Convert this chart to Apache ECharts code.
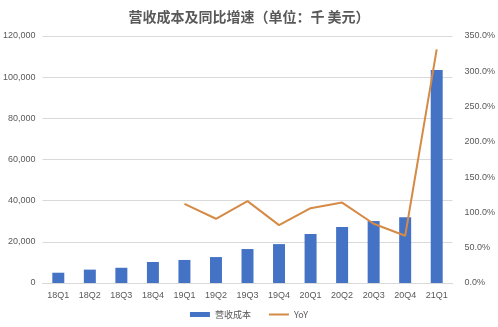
<!DOCTYPE html>
<html>
<head>
<meta charset="utf-8">
<script src="https://cdn.jsdelivr.net/npm/echarts@6/dist/echarts.min.js"></script>
<style>
  html, body { margin: 0; padding: 0; background: #fff; }
  #chart { width: 498px; height: 327px; }
</style>
</head>
<body>
<div id="chart"></div>
<script>
// Quarterly cost of revenue (thousand USD) and year-over-year growth
const quarters = ['18Q1','18Q2','18Q3','18Q4','19Q1','19Q2','19Q3','19Q4','20Q1','20Q2','20Q3','20Q4','21Q1'];
const costValues = [5000, 6500, 7400, 10200, 11200, 12600, 16500, 18900, 23800, 27200, 30100, 32000, 103500];
const yoyValues = [null, null, null, null, 112, 91, 116, 82, 106, 114, 84, 67, 331];

const chart = echarts.init(document.getElementById('chart'));
const axisText = { color: '#595959', fontSize: 9, fontFamily: 'Liberation Sans, Arial, sans-serif' };

chart.setOption({
  animation: false,
  title: {
    text: '营收成本及同比增速（单位：千 美元）',
    left: 'center',
    top: 5,
    textStyle: { fontSize: 14, fontWeight: 'bold', color: '#595959', fontFamily: 'Noto Sans CJK SC' }
  },
  legend: {
    bottom: 3,
    left: 'center',
    itemWidth: 20,
    itemHeight: 5,
    itemGap: 18,
    textStyle: { fontSize: 9, color: '#595959', fontFamily: 'Noto Sans CJK SC' },
    data: [
      { name: '营收成本', icon: 'rect' },
      { name: 'YoY', icon: 'path://M0,0 L10,0 L10,1 L0,1 Z' }
    ]
  },
  grid: { left: 40, right: 45, top: 36, bottom: 44 },
  xAxis: {
    type: 'category',
    data: quarters,
    axisTick: { show: false },
    axisLine: { show: true, lineStyle: { color: '#d9d9d9' } },
    axisLabel: Object.assign({ margin: 8 }, axisText)
  },
  yAxis: [
    {
      type: 'value',
      min: 0,
      max: 120000,
      interval: 20000,
      axisLine: { show: false },
      axisTick: { show: false },
      splitLine: { lineStyle: { color: '#d9d9d9' } },
      axisLabel: Object.assign({
        margin: 7,
        formatter: v => v.toLocaleString('en-US')
      }, axisText)
    },
    {
      type: 'value',
      min: 0,
      max: 350,
      interval: 50,
      axisLine: { show: false },
      axisTick: { show: false },
      splitLine: { show: false },
      axisLabel: Object.assign({
        margin: 12,
        formatter: v => v.toFixed(1) + '%'
      }, axisText)
    }
  ],
  series: [
    {
      name: '营收成本',
      type: 'bar',
      data: costValues,
      barWidth: '38%',
      itemStyle: { color: '#4472C4' }
    },
    {
      name: 'YoY',
      type: 'line',
      yAxisIndex: 1,
      data: yoyValues,
      symbol: 'none',
      connectNulls: false,
      lineStyle: { color: '#D58A45', width: 2 },
      itemStyle: { color: '#D58A45' }
    }
  ]
});
</script>
</body>
</html>
